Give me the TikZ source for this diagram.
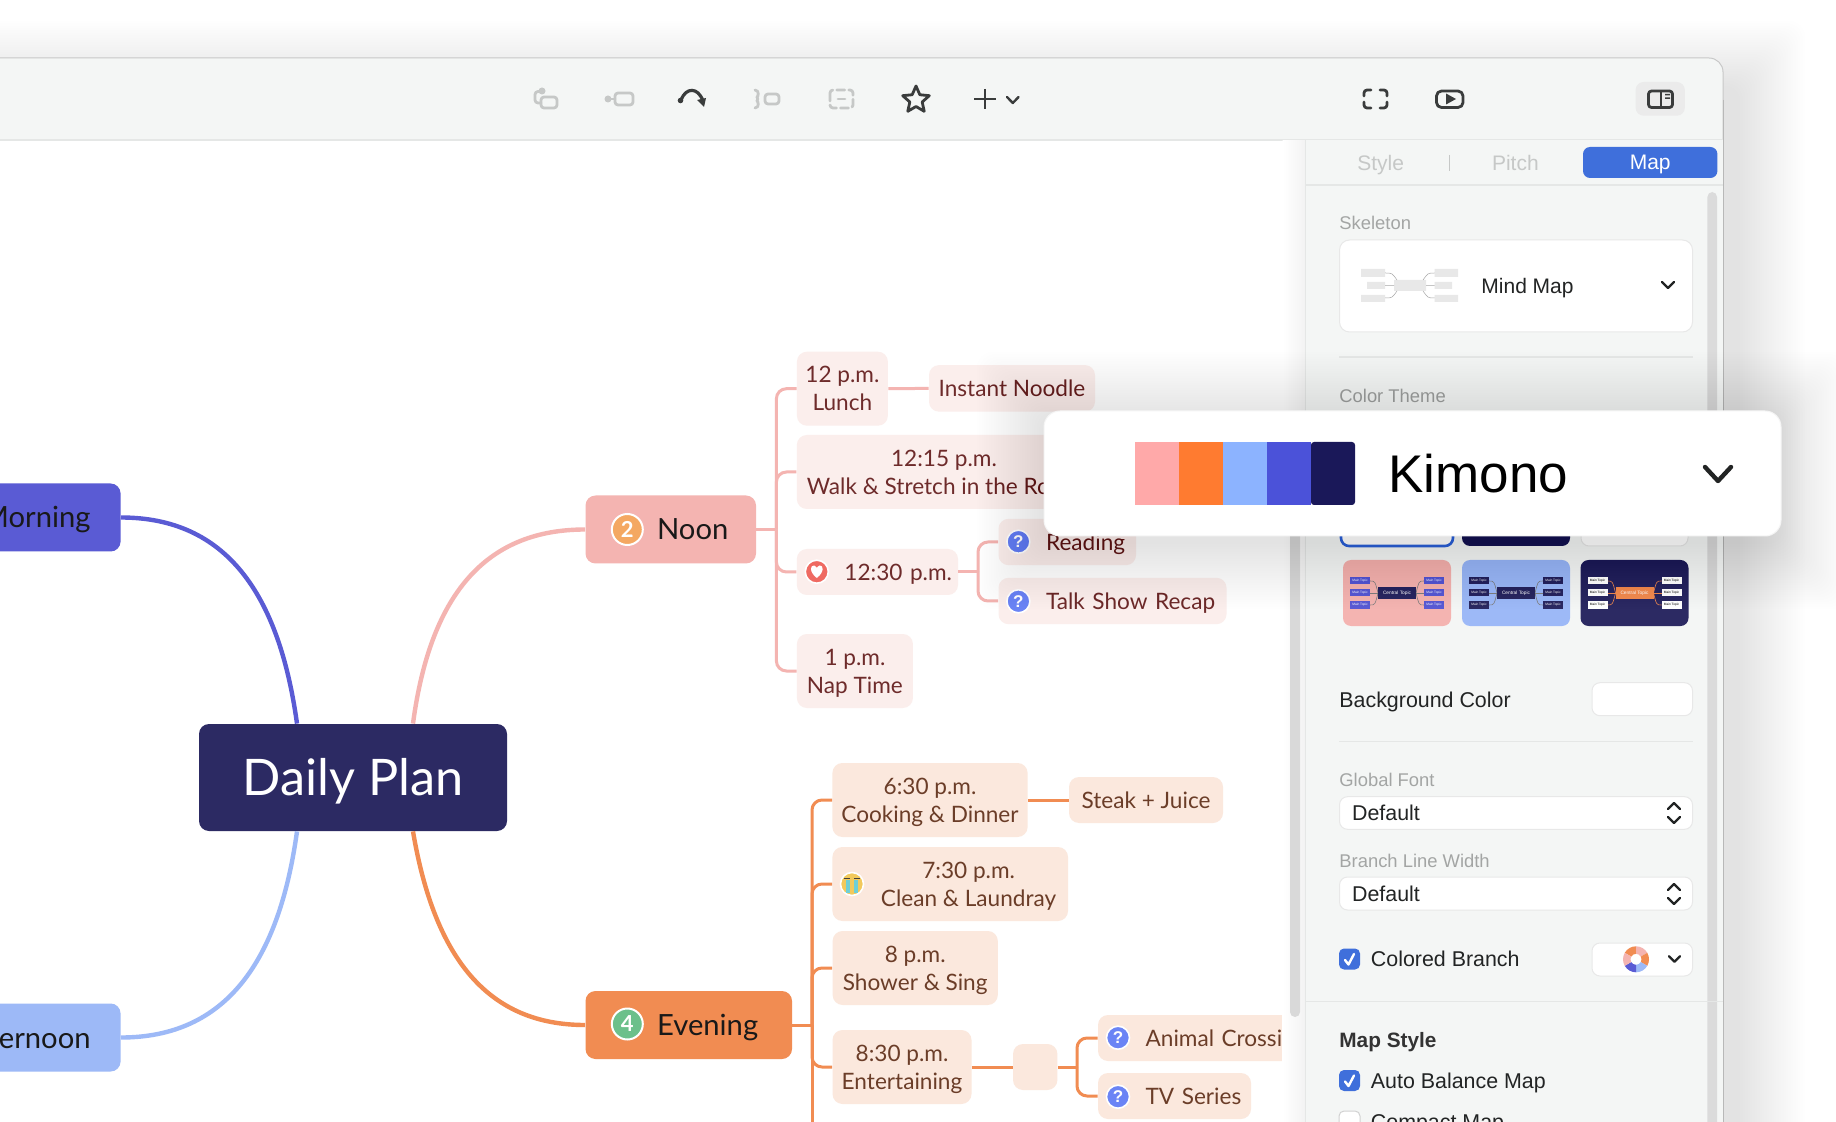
\documentclass[tikz,border=0pt]{standalone}
\usepackage{fontspec}
\setmainfont{Liberation Sans}
\newfontfamily\mapfont{Lato}
\definecolor{chrome}{HTML}{F4F6F5}
\definecolor{hairline}{HTML}{E5E7E6}
\definecolor{navy}{HTML}{2C2A63}
\definecolor{violet}{HTML}{5A5BD4}
\definecolor{sky}{HTML}{9DB9F7}
\definecolor{noonc}{HTML}{F4B4B1}
\definecolor{noonl}{HTML}{FBEEEC}
\definecolor{noont}{HTML}{6E2B2B}
\definecolor{evec}{HTML}{F18C52}
\definecolor{evel}{HTML}{FBE8DD}
\definecolor{evet}{HTML}{6B3D28}
\definecolor{tabblue}{HTML}{3F6FDB}
\definecolor{quest}{HTML}{6B84F5}
\definecolor{iconoff}{HTML}{C6C8C7}
\definecolor{iconon}{HTML}{3A3C3C}
\definecolor{grayt}{HTML}{A3A5A4}
\definecolor{darkt}{HTML}{222424}
\definecolor{twodot}{HTML}{F4A862}
\definecolor{fourdot}{HTML}{6CC08B}
\definecolor{heartc}{HTML}{EF6A62}
\definecolor{sadc}{HTML}{F2C95C}
\definecolor{tearc}{HTML}{6FCFD6}
\newcommand{\icongap}{\hspace*{23.8pt}}
\newcommand{\badgegap}{\hspace*{35.8pt}}
\tikzset{
  subbox/.style={rounded corners=5pt,inner sep=0pt,align=center,text depth=0pt,font=\mapfont\fontsize{11.3}{14}\selectfont},
  oneline/.style={text height=8.1pt,text depth=0pt},
  noonsub/.style={subbox,fill=noonl,text=noont},
  evesub/.style={subbox,fill=evel,text=evet},
  topicbox/.style={rounded corners=5pt,inner sep=0pt,align=left,text=black!90,minimum height=#1,text height=10.5pt,text depth=0pt,font=\mapfont\fontsize{14.6}{16}\selectfont},
  cuttopic/.style={topicbox=34pt,anchor=east,inner xsep=15pt,inner ysep=0pt},
  noonline/.style={draw=noonc,line width=1.5pt,rounded corners=5pt},
  eveline/.style={draw=evec,line width=1.5pt,rounded corners=5pt},
  qmark/.style={circle,fill=quest,draw=white,line width=.8pt,inner sep=0pt,minimum size=11.5pt,text=white,font=\fontsize{8.5}{9}\selectfont\bfseries},
  numdot/.style={circle,draw=white,line width=1pt,inner sep=0pt,minimum size=15.5pt,text=white,font=\mapfont\fontsize{11}{12}\selectfont\bfseries},
  grayl/.style={anchor=west,inner sep=0pt,text=grayt,text height=6.5pt,text depth=0pt,font=\fontsize{9.2}{10}\selectfont},
  darkl/.style={anchor=west,inner sep=0pt,text=darkt,text height=7.6pt,text depth=0pt,font=\fontsize{10.7}{12}\selectfont},
  tablabel/.style={inner sep=0pt,text height=7.5pt,text depth=0pt,font=\fontsize{10.5}{12}\selectfont},
  panelbox/.style={rectangle,fill=white,draw=black!9,line width=.5pt,rounded corners=#1},
  chevline/.style={draw=#1,line width=1.2pt,line cap=round,line join=round},
  iconline/.style={draw=#1,line width=1.4pt,line cap=round,line join=round,rounded corners=1.5pt},
}
\newcommand{\chevdown}[3]{\draw[chevline=darkt] (#1-#3,#2-#3*.5) -- (#1,#2+#3*.5) -- (#1+#3,#2-#3*.5);}
\newcommand{\updown}[2]{\draw[chevline=darkt] (#1-6,#2-4) -- (#1,#2-10) -- (#1+6,#2-4);\draw[chevline=darkt] (#1-6,#2+4) -- (#1,#2+10) -- (#1+6,#2+4);}
\newcommand{\softshadow}[5]{\foreach \i in {1,...,28}{\fill[black,opacity=#5,rounded corners=8pt] (#1-\i*2.4,#2-\i*2.4) rectangle (#3+\i*2.4,#4+\i*2.4);}}
\newcommand{\checkbox}[2]{\fill[tabblue,rounded corners=2.5pt] (#1,#2-10.5) rectangle (#1+21,#2+10.5);\draw[draw=white,line width=1.2pt,line cap=round,line join=round] (#1+6,#2+1) -- (#1+9.5,#2+5.5) -- (#1+15,#2-5);}
\newcommand{\themethumb}[7]{\begin{scope}[shift={(#1,#2)}]
  \fill[#3,rounded corners=4pt] (-54,-33) rectangle (54,33);
  \foreach \s in {-1,1}{\foreach \r in {-12,12}{\draw[#7,line width=.3pt] (\s*19,0) .. controls (\s*22,\r) .. (\s*27,\r);}
    \draw[#7,line width=.3pt] (\s*19,0) -- (\s*27,0);
    \foreach \r in {-12,0,12}{\node[fill=#4,text=#5,inner sep=0pt,minimum width=10pt,minimum height=3.5pt,font=\fontsize{1.6}{2}\selectfont] at (\s*37,\r) {Main Topic};}}
  \node[fill=#6,text=white,inner sep=0pt,minimum width=19pt,minimum height=6pt,font=\fontsize{2.4}{3}\selectfont] at (0,0) {Central Topic};
\end{scope}}
\begin{document}
\begin{tikzpicture}[x=.5pt,y=-.5pt]
\useasboundingbox (0,0) rectangle (1836,1122);
\clip (0,0) rectangle (1836,1122);
\softshadow{-100}{88}{1738}{1400}{.0036}
\fill[chrome,draw=black!22,line width=.5pt,rounded corners=7pt] (-100,58) rectangle (1723,1400);
\fill[white] (-10,140.5) rectangle (1282.5,1130);
\draw[hairline,line width=.7pt] (-10,140) -- (1723,140);

\node[fill=navy,text=white,rounded corners=5pt,inner sep=0pt,minimum width=154pt,minimum height=53.5pt,text height=18pt,text depth=0pt,font=\mapfont\fontsize{25.2}{28}\selectfont] (daily) at (353,777.5) {Daily Plan};
\node[cuttopic,fill=violet] (morning) at (121,517.5) {Morning};
\node[cuttopic,fill=sky] (afternoon) at (121,1037.5) {Afternoon};
\node[topicbox=34pt,fill=noonc,text width=85.25pt] (noon) at (670.75,529.5) {\badgegap Noon};
\node[topicbox=34pt,fill=evec,text width=103.25pt] (evening) at (688.75,1025) {\badgegap Evening};
\node[numdot,fill=twodot] (two) at (627.3,529.5) {2};
\node[numdot,fill=fourdot] (four) at (627.3,1024) {4};

\draw[violet,line width=2.2pt] ([xshift=-28pt]daily.north) .. controls ++(-18,-130) and ++(105,0) .. (morning.east);
\draw[sky,line width=2.2pt] ([xshift=-28pt]daily.south) .. controls ++(-18,130) and ++(105,0) .. (afternoon.east);
\draw[noonc,line width=2.2pt] ([xshift=30pt]daily.north) .. controls ++(18,-135) and ++(-95,0) .. (noon.west);
\draw[evec,line width=2.2pt] ([xshift=30pt]daily.south) .. controls ++(22,130) and ++(-95,0) .. (evening.west);

\node[noonsub,minimum width=45.5pt,minimum height=37pt] (lunch) at (842.4,388.7) {12 p.m.\\Lunch};
\node[noonsub,oneline,minimum width=83pt,minimum height=23.3pt] (noodle) at (1012,388.4) {Instant Noodle};
\node[noonsub,minimum width=147.2pt,minimum height=37pt] (walk) at (944,472) {12:15 p.m.\\Walk \& Stretch in the Ro\phantom{om}};
\node[noonsub,oneline,text width=80.6pt,align=left,minimum height=23pt] (rest) at (877.4,572) {\icongap 12:30 p.m.};
\node[noonsub,oneline,text width=68.75pt,align=left,minimum height=23.2pt] (reading) at (1067.25,542) {\icongap Reading};
\node[noonsub,oneline,text width=114pt,align=left,minimum height=23.2pt] (talk) at (1112.5,601) {\icongap Talk Show Recap};
\node[noonsub,minimum width=58pt,minimum height=37pt] (nap) at (854.9,671) {1 p.m.\\Nap Time};
\coordinate (noonbar) at (776.4,529.5);
\coordinate (restbar) at (978,572);
\draw[noonline] (noon.east) -- (noonbar);
\foreach \t in {lunch,walk,rest,nap}{\draw[noonline] (noonbar) |- (\t.west);}
\draw[noonline] (lunch.east) -- (noodle.west);
\draw[noonline] (rest.east) -- (restbar);
\foreach \t in {reading,talk}{\draw[noonline] (restbar) |- (\t.west);}
\node[circle,fill=heartc,draw=white,line width=.8pt,inner sep=0pt,minimum size=11.5pt] (heart) at (816.8,571.7) {};
\fill[white] (816.8,578) .. controls (809,572) and (810,565) .. (814,565.5) .. controls (816,566) and (816.8,568) .. (816.8,568) .. controls (816.8,568) and (817.6,566) .. (819.6,565.5) .. controls (823.6,565) and (824.6,572) .. (816.8,578);
\node[qmark] (qone) at (1018.4,541.7) {?};
\node[qmark] (qtwo) at (1018.4,601.3) {?};

\node[evesub,minimum width=97.6pt,minimum height=37pt] (cook) at (930,800) {6:30 p.m.\\Cooking \& Dinner};
\node[evesub,oneline,minimum width=77pt,minimum height=23pt] (steak) at (1146,800) {Steak + Juice};
\node[evesub,minimum width=117.8pt,minimum height=37pt] (clean) at (950.2,884) {\hspace*{18.4pt}7:30 p.m.\\\hspace*{18.4pt}Clean \& Laundray};
\node[evesub,minimum width=82.6pt,minimum height=37pt] (shower) at (915.2,968) {8 p.m.\\Shower \& Sing};
\node[evesub,minimum width=69.5pt,minimum height=37pt] (enter) at (902,1067) {8:30 p.m.\\Entertaining};
\node[evesub,minimum width=22.2pt,minimum height=23pt] (blank) at (1035.2,1067) {};
\node[evesub,oneline,text width=116pt,align=left,minimum height=23pt] (animal) at (1214,1038) {\icongap Animal Crossi\phantom{ng}};
\node[evesub,oneline,text width=76.5pt,align=left,minimum height=23pt] (tv) at (1174.5,1096) {\icongap TV Series};
\coordinate (evebar) at (812,1025);
\coordinate (enterbar) at (1077,1067);
\coordinate (evebottom) at (812,1130);
\draw[eveline] (evening.east) -- (evebar);
\foreach \t in {cook,clean,shower,enter}{\draw[eveline] (evebar) |- (\t.west);}
\draw[eveline] (evebar) -- (evebottom);
\draw[eveline] (cook.east) -- (steak.west);
\draw[eveline] (enter.east) -- (blank.west);
\draw[eveline] (blank.east) -- (enterbar);
\foreach \t in {animal,tv}{\draw[eveline] (enterbar) |- (\t.west);}
\node[circle,fill=sadc,draw=white,line width=.8pt,inner sep=0pt,minimum size=11.5pt] (sad) at (852,884) {};
\fill[tearc] (846,880) rectangle (850,893);
\fill[tearc] (854,880) rectangle (858,893);
\draw[black!75,line width=.5pt] (844,878) -- (850,878) (854,878) -- (860,878);
\node[qmark] (qthree) at (1118,1037.7) {?};
\node[qmark] (qfour) at (1118,1096.7) {?};

\shade[left color=white,right color=black!5,shading angle=90] (1282.5,141) rectangle (1306,1130);
\fill[black!15,rounded corners=2.5pt] (1290,420) rectangle (1300,1017);
\draw[hairline,line width=.6pt] (1306,140) -- (1306,1130);
\fill[chrome] (1306.3,140.5) rectangle (1722.5,1130);
\draw[hairline,line width=.7pt] (1306,185) -- (1722.5,185);
\fill[black!14,rounded corners=2.5pt] (1707.4,192) rectangle (1717,1130);
\draw[hairline,line width=.7pt] (1306,1001.7) -- (1722.5,1001.7);
\draw[black!28!white,line width=.5pt] (1723,100) -- (1723,1130);

\draw[iconline=iconoff] (540,91.5) -- (535,91.5) -- (535,103) -- (541,103);
\fill[iconoff] (542,91) circle (3.5);
\draw[iconline=iconoff] (541,97) rectangle (557,108);
\fill[iconoff] (608,99) circle (3.5);
\draw[iconline=iconoff] (608,99) -- (615,99);
\draw[iconline=iconoff] (615,93) rectangle (633,105);
\draw[iconon,line width=1.6pt,line cap=round] (681,100) .. controls (686,87) and (698,87) .. (703,101);
\fill[iconon] (680.5,100.5) circle (2.8);
\fill[iconon] (697,100) -- (706,98) -- (704,107) -- cycle;
\draw[iconline=iconoff] (755,90) .. controls (760,90) and (758,98) .. (759,99) .. controls (758,100) and (760,108) .. (755,108);
\draw[iconline=iconoff] (765,94) rectangle (779,104);
\draw[iconline=iconoff,dash pattern=on 4pt off 2pt] (830,90) rectangle (853,108);
\draw[iconline=iconoff] (838,99) -- (845,99);
\draw[iconon,line width=1.4pt,line join=round,shift={(916,100)}] (-90:14) -- (-54:6.5) -- (-18:14) -- (18:6.5) -- (54:14) -- (90:6.5) -- (126:14) -- (162:6.5) -- (198:14) -- (234:6.5) -- cycle;
\draw[iconon,line width=1.2pt] (974,99) -- (995.5,99) (984.7,89) -- (984.7,109.5);
\draw[chevline=iconon] (1007,97) -- (1012.8,103) -- (1018.6,97);
\draw[iconline=iconon] (1364,96) -- (1364,90) -- (1371,90) (1380,90) -- (1387,90) -- (1387,96) (1387,102) -- (1387,108) -- (1380,108) (1371,108) -- (1364,108) -- (1364,102);
\draw[iconline=iconon,rounded corners=2.5pt] (1436.5,91) rectangle (1463,107.5);
\fill[iconon] (1446,93.5) -- (1456,99) -- (1446,104.5) -- cycle;
\fill[black!8,rounded corners=4pt] (1635.6,82) rectangle (1684.8,115.7);
\draw[iconline=iconon] (1648.5,91) rectangle (1672.5,107.5);
\draw[iconon,line width=1.2pt] (1661,91) -- (1661,107.5);
\fill[iconon] (1665,94) rectangle (1670,95.5) (1665,97.5) rectangle (1670,99);

\node[tablabel,rectangle,fill=tabblue,rounded corners=3.5pt,minimum width=67.2pt,minimum height=15.5pt,text=white] (maptab) at (1650.2,162.5) {Map};
\node[tablabel,text=iconoff] (styletab) at (1380.6,163) {Style};
\node[tablabel,text=iconoff] (pitchtab) at (1515.4,163) {Pitch};
\draw[iconoff,line width=.5pt] (1449,155) -- (1449,171);

\node[grayl] (skeleton) at (1339,223) {Skeleton};
\fill[panelbox=5pt] (1339.5,240) rectangle (1692.5,332);
\fill[black!9] (1394,280) rectangle (1426,291) (1361,269) rectangle (1385,277) (1367,282) rectangle (1385,289) (1361,295) rectangle (1385,302) (1434.6,269) rectangle (1458,277) (1434.6,282) rectangle (1452,289) (1434.6,295) rectangle (1458,302);
\draw[black!35,line width=.25pt] (1385,273) .. controls (1392,273) .. (1397,280) (1385,298) .. controls (1392,298) .. (1397,291) (1385,285.5) -- (1394,285.5) (1434.6,273) .. controls (1428,273) .. (1423,280) (1434.6,298) .. controls (1428,298) .. (1423,291) (1434.6,285.5) -- (1426,285.5);
\node[darkl,text height=7.5pt,font=\fontsize{10.5}{12}\selectfont] (mindmap) at (1481,286) {Mind Map};
\chevdown{1668}{285}{6}
\draw[hairline,line width=.6pt] (1339,357) -- (1692.5,357);
\node[grayl] (colortheme) at (1339,396) {Color Theme};

\fill[panelbox=4pt,draw=tabblue,line width=1.3pt] (1341,480) rectangle (1453,546);
\fill[navy,rounded corners=4pt] (1462,480) rectangle (1570,546);
\fill[panelbox=4pt] (1581,480) rectangle (1688,546);
\themethumb{1397}{593}{noonc}{violet}{white}{navy}{black!50}
\themethumb{1516}{593}{sky}{navy}{white}{navy}{black!50}
\themethumb{1634.5}{593}{navy}{white}{black}{evec}{evec}

\node[darkl] (bgcolor) at (1339,700) {Background Color};
\fill[panelbox=4pt] (1592,682.7) rectangle (1692.5,715.7);
\draw[hairline,line width=.6pt] (1339,741.7) -- (1692.5,741.7);
\node[grayl] (globalfont) at (1339,780) {Global Font};
\fill[panelbox=4pt] (1339.5,796.7) rectangle (1692.5,829.3);
\node[darkl] (fontval) at (1351.7,813) {Default};
\updown{1674}{813}
\node[grayl] (linewidth) at (1339,861) {Branch Line Width};
\fill[panelbox=4pt] (1339.5,877) rectangle (1692.5,910);
\node[darkl] (widthval) at (1351.7,894) {Default};
\updown{1674}{894}
\checkbox{1339}{959}
\node[darkl] (colored) at (1370.5,959.3) {Colored Branch};
\fill[panelbox=4pt] (1592,943) rectangle (1692.5,976);
\foreach \a/\c in {-150/evec,-90/noonc,-30/evec,30/sky,90/violet,150/noonc}{\fill[\c,shift={(1636,959.3)}] (\a:13) arc[start angle=\a,end angle=\a+60,radius=13] -- (\a+60:5.5) arc[start angle=\a+60,end angle=\a,radius=5.5] -- cycle;}
\chevdown{1674.5}{959}{5.5}
\node[darkl,text=black!80,font=\fontsize{10.4}{12}\selectfont\bfseries] (mapstyle) at (1339,1040) {Map Style};
\checkbox{1339}{1080.5}
\node[darkl] (autobal) at (1370.5,1081) {Auto Balance Map};
\fill[panelbox=2.5pt,draw=black!18] (1339,1111) rectangle (1360,1132);
\node[darkl] (compact) at (1370.5,1122) {Compact Map};

\softshadow{1044}{419}{1781}{542}{.0024}
\node[panelbox=8pt,draw=black!4,inner sep=0pt,minimum width=368.5pt,minimum height=62.5pt] (card) at (1412.5,473.5) {};
\foreach \x/\c in {1135/FFA9A9,1179/FF7B30,1223/8CB3FF,1267/4B52D9}{\definecolor{sw}{HTML}{\c}\fill[sw] (\x,442) rectangle (\x+44.3,505);}
\definecolor{sw}{HTML}{1A1859}
\fill[sw,rounded corners=1.5pt] (1311,442) rectangle (1355,505);
\node[inner sep=0pt,anchor=base west,text=black,font=\fontsize{26.5}{30}\selectfont] (kimono) at (1388,493) {Kimono};
\draw[chevline=darkt,line width=2.2pt] (1705,467) -- (1718,481) -- (1731,467);
\end{tikzpicture}
\end{document}
